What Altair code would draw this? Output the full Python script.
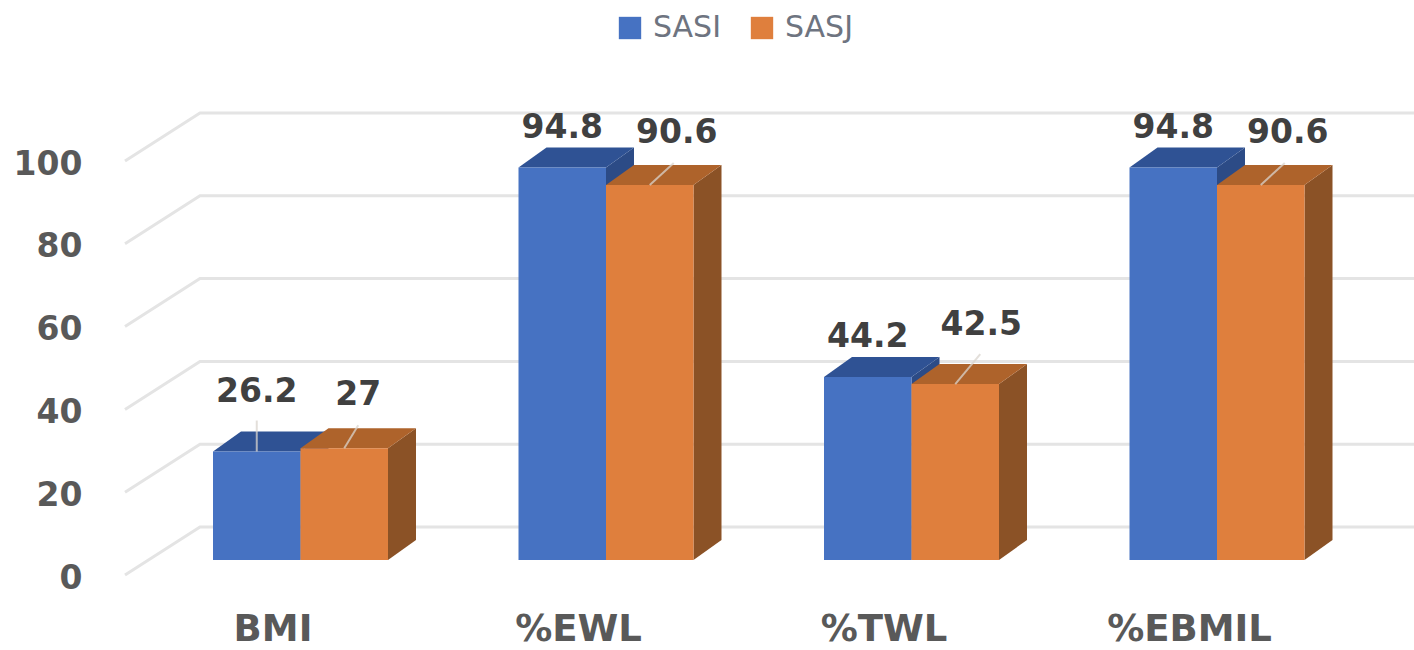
import altair as alt
import pandas as pd

CATEGORIES = ["BMI", "%EWL", "%TWL", "%EBMIL"]
SASI = [26.2, 94.8, 44.2, 94.8]
SASJ = [27, 90.6, 42.5, 90.6]
TICKS = [0, 20, 40, 60, 80, 100]

# Pixel layout of the pseudo-3D scene
LEFT, TOP, WIDTH, HEIGHT = 125, 60, 1289, 540
SLOT = 305.5          # px between category centres
FIRST = 300.5         # px of the first category centre
BAR = 87.5            # px width of one bar
DEPTH_X, DEPTH_Y = 28, 20
PX_PER_UNIT = 4.14
BASE_Y = 560          # px of value 0 on the front plane

X_DOMAIN = [(LEFT - FIRST) / SLOT, (LEFT + WIDTH - FIRST) / SLOT]
Y_DOMAIN = [(BASE_Y - TOP - HEIGHT) / PX_PER_UNIT, (BASE_Y - TOP) / PX_PER_UNIT]
x_scale = alt.Scale(domain=X_DOMAIN, nice=False, zero=False)
y_scale = alt.Scale(domain=Y_DOMAIN, nice=False, zero=False)

dx = DEPTH_X / SLOT
dy = DEPTH_Y / PX_PER_UNIT
bw = BAR / SLOT

# Data-label displacement from the top centre of each bar, in px
SASI_SHIFT_X = [0, 0, 0, 0]
SASI_SHIFT_Y = [60, 40, 40, 40]
SASJ_SHIFT_X = [14, 27, 26, 27]
SASJ_SHIFT_Y = [53, 52, 59, 52]

# Leader lines: (category index, px length up, px run right)
SASI_LEADERS = [(0, 31, 0)]
SASJ_LEADERS = [(0, 23, 14), (1, 22, 24), (2, 30, 25), (3, 22, 24)]

x_axis = alt.Axis(
    values=list(range(len(CATEGORIES))),
    labelExpr="{}[datum.value]".format(CATEGORIES),
    domain=False,
    ticks=False,
    grid=False,
    labelFont="DejaVu Sans",
    labelFontWeight="bold",
    labelFontSize=37,
    labelColor="#595959",
    labelOffset=-28,
    labelPadding=11,
    labelFlush=False,
)
y_axis = alt.Axis(
    values=TICKS,
    domain=False,
    ticks=False,
    grid=False,
    labelFont="DejaVu Sans",
    labelFontWeight="bold",
    labelFontSize=33,
    labelColor="#595959",
    labelOffset=18,
    labelPadding=43,
    labelFlush=False,
)
X = alt.X("x:Q", scale=x_scale, title=None, axis=x_axis)
Y = alt.Y("y:Q", scale=y_scale, title=None, axis=y_axis)


def faces(values, start):
    front, side, top = [], [], []
    for i, v in enumerate(values):
        x0 = i + start
        x1 = x0 + bw
        front.append({"x": x0, "x2": x1, "y": v, "y2": 0})
        side.append({"k": i, "x": x1, "y": v, "y2": 0})
        side.append({"k": i, "x": x1 + dx, "y": v + dy, "y2": dy})
        top.append({"k": i, "y": v, "x": x0, "x2": x1})
        top.append({"k": i, "y": v + dy, "x": x0 + dx, "x2": x1 + dx})
    return pd.DataFrame(front), pd.DataFrame(side), pd.DataFrame(top)


def series_layers(name, values, start, side_color, top_color):
    front, side, top = faces(values, start)
    front["series"] = name
    return [
        alt.Chart(side).mark_area(color=side_color, orient="vertical").encode(
            x=X, y=Y, y2="y2:Q", detail="k:N"
        ),
        alt.Chart(top).mark_area(color=top_color, orient="horizontal").encode(
            x=X, x2="x2:Q", y=Y, detail="k:N"
        ),
        alt.Chart(front).mark_rect().encode(
            x=X,
            x2="x2:Q",
            y=Y,
            y2="y2:Q",
            color=alt.Color(
                "series:N",
                scale=alt.Scale(domain=["SASI", "SASJ"], range=["#4672C2", "#DF7F3D"]),
                legend=alt.Legend(
                    title=None,
                    orient="none",
                    direction="horizontal",
                    columns=2,
                    legendX=619 - LEFT - 4,
                    legendY=13 - TOP,
                    symbolType="square",
                    symbolSize=500,
                    symbolStrokeWidth=0,
                    labelFont="DejaVu Sans",
                    labelFontSize=30,
                    labelColor="#6E7480",
                    labelOffset=8,
                    columnPadding=25,
                    labelLimit=120,
                    padding=0,
                ),
            ),
        ),
    ]


# Back wall: each gridline runs from the front edge up to the wall, then across
grid_rows = []
for t in TICKS:
    grid_rows.append({"t": t, "x": X_DOMAIN[0], "y": t - 15 / PX_PER_UNIT})
    grid_rows.append({"t": t, "x": (200 - FIRST) / SLOT, "y": t + 33 / PX_PER_UNIT})
    grid_rows.append({"t": t, "x": X_DOMAIN[1], "y": t + 33 / PX_PER_UNIT})

grid = alt.Chart(pd.DataFrame(grid_rows)).mark_line(color="#E4E4E4", strokeWidth=3).encode(
    x=X, y=Y, detail="t:N"
)

# Data labels and their leader lines
label_rows, leader_rows = [], []
for values, start, sx, sy, leader_spec in [
    (SASI, -bw, SASI_SHIFT_X, SASI_SHIFT_Y, SASI_LEADERS),
    (SASJ, 0, SASJ_SHIFT_X, SASJ_SHIFT_Y, SASJ_LEADERS),
]:
    for i, v in enumerate(values):
        label_rows.append(
            {
                "x": i + start + bw / 2 + sx[i] / SLOT,
                "y": v + sy[i] / PX_PER_UNIT,
                "text": str(v),
            }
        )
    for i, up, run in leader_spec:
        c = i + start + bw / 2
        leader_rows.append(
            {
                "x": c,
                "x2": c + run / SLOT,
                "y": values[i],
                "y2": values[i] + up / PX_PER_UNIT,
            }
        )

labels = alt.Chart(pd.DataFrame(label_rows)).mark_text(
    font="DejaVu Sans",
    fontWeight="bold",
    fontSize=33,
    color="#404040",
    baseline="middle",
    align="center",
).encode(x=X, y=Y, text="text:N")

leaders = alt.Chart(pd.DataFrame(leader_rows)).mark_rule(
    color="#D9D4CE", opacity=0.75, strokeWidth=2
).encode(x=X, x2="x2:Q", y=Y, y2="y2:Q")

chart = (
    alt.layer(
        grid,
        *series_layers("SASI", SASI, -bw, "#2C4B86", "#2F5294"),
        *series_layers("SASJ", SASJ, 0, "#8B5226", "#AE632B"),
        leaders,
        labels,
    )
    .properties(
        width=WIDTH,
        height=HEIGHT,
        padding={"left": LEFT, "top": TOP, "right": 0, "bottom": 650 - TOP - HEIGHT},
        autosize=alt.AutoSizeParams(type="none"),
        background="white",
    )
    .configure_view(stroke=None)
)

chart.save("out.html", embed_options={"renderer": "svg", "actions": False})
